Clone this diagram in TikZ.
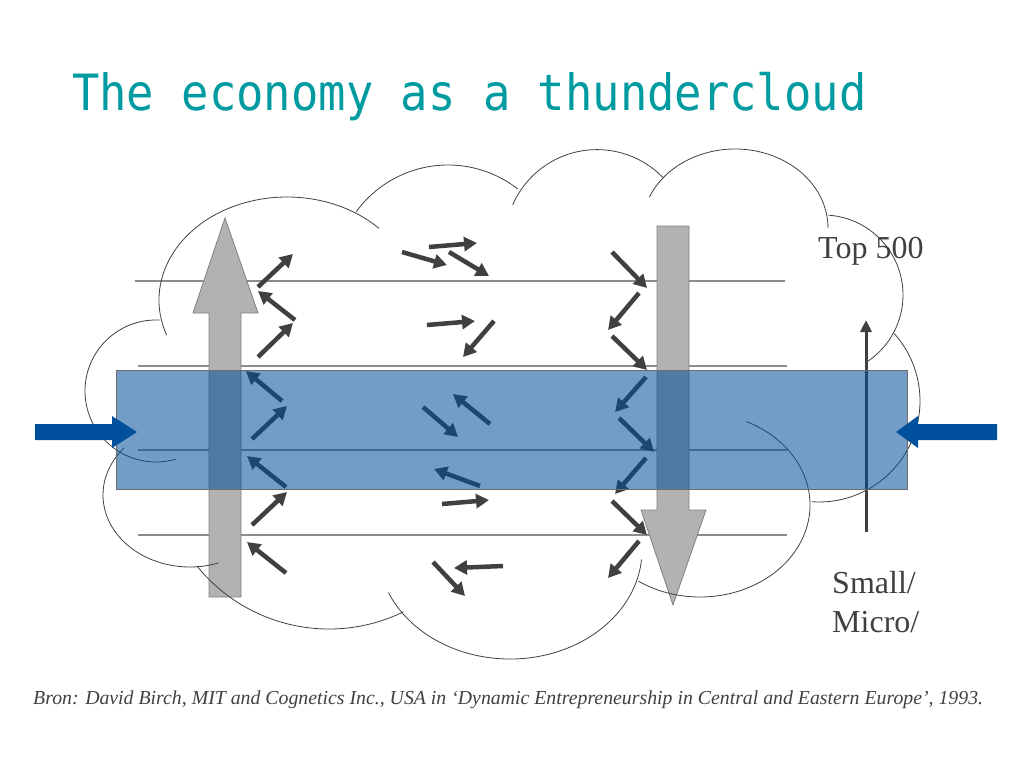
\documentclass[tikz,border=0pt]{standalone}
\usepackage{fontspec}
\setmainfont{Liberation Serif}
\newfontfamily\titlefont[FakeStretch=0.91]{DejaVu Sans Mono}
\usetikzlibrary{arrows.meta}

\definecolor{titleteal}{RGB}{0,155,160}
\definecolor{inkgray}{RGB}{64,64,64}
\definecolor{rulegray}{RGB}{140,140,140}
\definecolor{shaftgray}{RGB}{178,178,178}
\definecolor{bandblue}{RGB}{0,77,151}
\definecolor{sideblue}{RGB}{0,80,158}

% one bump of the cloud: centre x, centre y, x radius, y radius, from, to
\newcommand{\lobe}[6]{%
  \draw[cloudline] ([shift={(#5:#3 and #4)}]#1,#2)
    arc[start angle=#5, end angle=#6, x radius=#3, y radius=#4];}

\begin{document}
\begin{tikzpicture}[x=1pt, y=-1pt,
  cloudline/.style={draw=inkgray, line width=0.8pt},
  layer/.style={draw=rulegray, line width=1.3pt},
  bigarrow/.style={fill=shaftgray, draw=gray, line width=0.8pt},
  flow/.style={draw=inkgray, line width=4.5pt, -{Triangle[length=13pt,width=14pt]}},
  rise/.style={draw=inkgray, line width=3pt, -{Triangle[length=12pt,width=11pt]}},
  label/.style={text=inkgray, font=\fontsize{32}{38}\selectfont, inner sep=0pt}]

  \useasboundingbox (0,0) rectangle (1024,768);

  \node[anchor=base west, inner sep=0pt, text=titleteal,
        font=\titlefont\fontsize{50}{60}\selectfont] (title) at (72,110)
        {The economy as a thundercloud};

  % size layers
  \draw[layer] (135,281) -- (785,281);
  \foreach \y in {366,450,535}
    \draw[layer] (138,\y) -- (787,\y);

  % growth up, decline down
  \draw[bigarrow] (209,597) -- (209,313) -- (193,313) -- (225,218) -- (258,313)
    -- (241,313) -- (241,597) -- cycle;
  \draw[bigarrow] (657,226) -- (689,226) -- (689,510) -- (706,510) -- (673,605)
    -- (641,510) -- (657,510) -- cycle;

  % the cloud
  \lobe{287}{300}{128}{103}{160}{316}
  \lobe{448}{278.5}{113.5}{113.5}{216}{308}
  \lobe{597}{241.6}{92}{92}{203.5}{315.6}
  \lobe{735}{228}{93}{79}{203}{360}
  \lobe{823}{295}{80}{80}{274}{417}
  \lobe{819}{401}{101}{101}{318}{454}
  \lobe{700}{505}{110}{92}{295}{484}
  \lobe{510}{550}{132}{109}{5}{157}
  \lobe{329}{459}{170}{170}{64}{141}
  \lobe{190}{495}{87}{72}{220.5}{71}
  \lobe{156}{391}{71}{71}{273}{74}

  % movements of the firms
  \foreach \a/\b/\c/\d in {258/287/293/254, 295/320/258/291, 258/357/293/323,
      282/401/246/371, 252/439/287/406, 286/487/247/456, 252/525/287/492,
      286/573/247/542,
      402/252/447/265, 429/247/477/243, 449/252/489/276, 427/325/475/321,
      494/321/463/357, 423/407/458/437, 490/424/453/394, 480/486/434/469,
      442/504/489/500, 503/566/454/568, 433/562/465/596,
      612/252/647/288, 639/293/608/330, 612/336/647/370, 646/377/615/412,
      619/418/654/452, 646/458/615/494, 612/501/647/535, 639/541/608/578}
    \draw[flow] (\a,\b) -- (\c,\d);

  \draw[rise] (866,532) -- (866,320);

  % the middle band
  \filldraw[fill=bandblue, fill opacity=0.55, draw=gray!85!black, line width=1pt]
    (116,370) rectangle (907,489);

  \fill[sideblue] (35,424) -- (112,424) -- (112,416) -- (137,432) -- (112,448)
    -- (112,440) -- (35,440) -- cycle;
  \fill[sideblue] (997,424) -- (918,424) -- (918,416) -- (896,432) -- (918,448)
    -- (918,440) -- (997,440) -- cycle;

  \node[label, anchor=base west] (top) at (818,258) {Top 500};
  \node[label, anchor=base west] (small) at (832,593) {Small/};
  \node[label, anchor=base west] (micro) at (832,632) {Micro/};

  \node[anchor=base west, inner sep=0pt, text=inkgray,
        font=\itshape\fontsize{19.8}{24}\selectfont] (source) at (33,704)
        {Bron: David Birch, MIT and Cognetics Inc., USA in ‘Dynamic Entrepreneurship in Central and Eastern Europe’, 1993.};
\end{tikzpicture}
\end{document}
